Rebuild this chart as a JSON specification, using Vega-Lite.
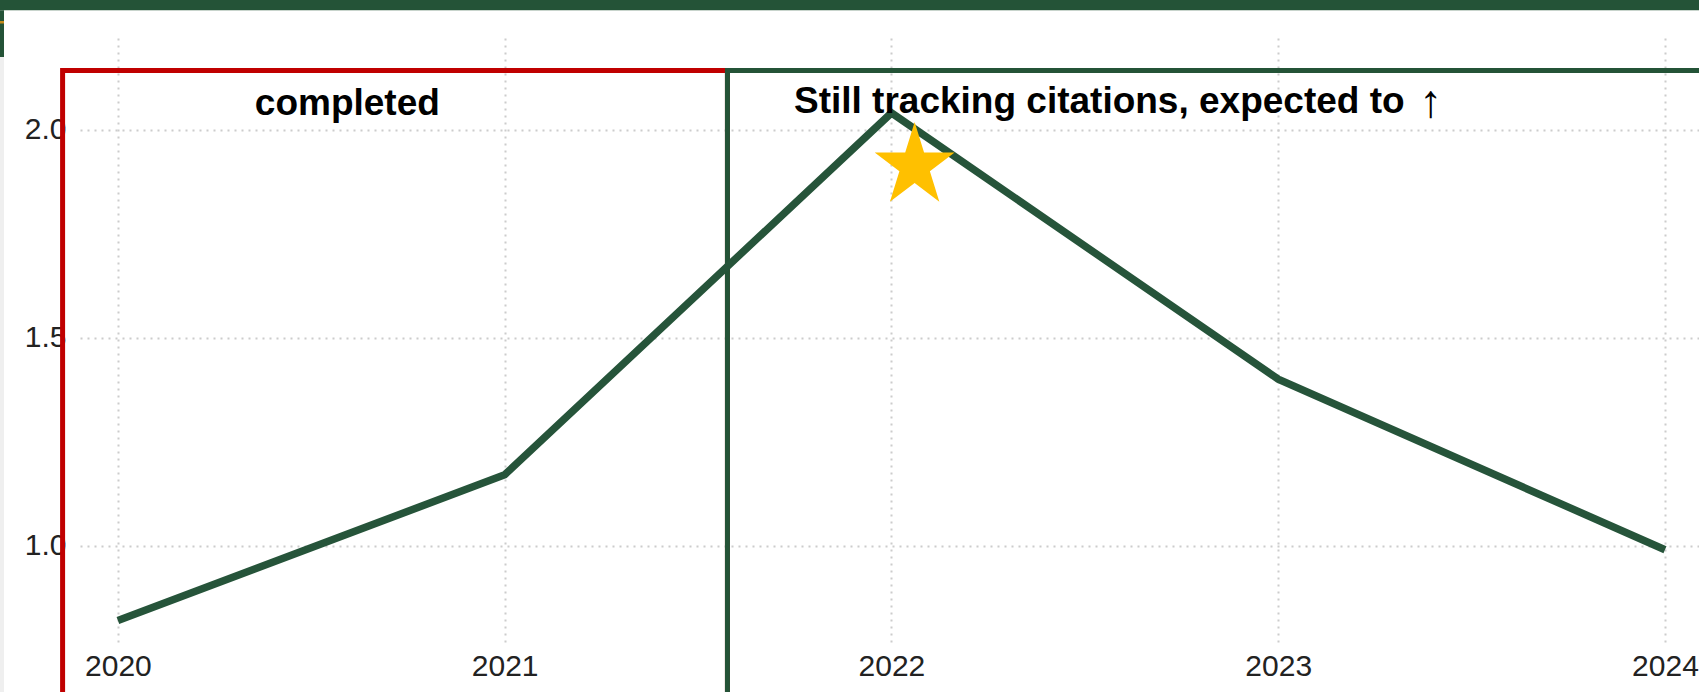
{
  "$schema": "https://vega.github.io/schema/vega-lite/v6.json",
  "autosize": "none",
  "width": 1619,
  "height": 607,
  "padding": {"left": 80, "top": 38, "right": 0, "bottom": 47},
  "background": "white",
  "datasets": {
    "series": [
      {"x": 2020, "y": 0.82},
      {"x": 2021, "y": 1.17},
      {"x": 2022, "y": 2.04},
      {"x": 2023, "y": 1.40},
      {"x": 2024, "y": 0.99}
    ],
    "highlight": [{"x": 2022.06, "y": 1.912}],
    "boxes": [
      {"box": "completed", "x": 2019.857, "x2": 2021.576, "y": 2.142, "y2": 0.5},
      {"box": "tracking", "x": 2021.576, "x2": 2024.4, "y": 2.142, "y2": 0.5}
    ],
    "notes": [
      {"label": "completed", "x": 2020.354, "y": 2.035},
      {"label": "Still tracking citations, expected to", "x": 2021.748, "y": 2.04}
    ],
    "arrow": [{"label": "↑", "x": 2023.364, "y": 2.03}],
    "frame": [
      {"part": "band", "x": 2019.5, "x2": 2024.5, "y": 2.287, "y2": 2.45},
      {"part": "band", "x": 2019.5, "x2": 2019.7055, "y": 2.287, "y2": 2.1743},
      {"part": "strip", "x": 2019.5, "x2": 2019.7055, "y": 2.1743, "y2": 0.5},
      {"part": "gold", "x": 2019.5, "x2": 2019.7055, "y": 2.2609, "y2": 2.2549}
    ]
  },
  "layer": [
    {
      "data": {"name": "frame"},
      "mark": {"type": "rect", "strokeWidth": 0},
      "encoding": {
        "x": {
          "field": "x",
          "type": "quantitative",
          "scale": {"domain": [2019.902, 2024.088], "nice": false, "zero": false},
          "axis": {
            "orient": "bottom",
            "values": [2020, 2021, 2022, 2023, 2024],
            "format": "d",
            "title": null,
            "labelPadding": 6
          }
        },
        "x2": {"field": "x2"},
        "y": {
          "field": "y",
          "type": "quantitative",
          "scale": {"domain": [0.761, 2.22], "nice": false, "zero": false},
          "axis": {
            "orient": "left",
            "values": [1.0, 1.5, 2.0],
            "format": ".1f",
            "title": null,
            "labelPadding": 14
          }
        },
        "y2": {"field": "y2"},
        "fill": {
          "field": "part",
          "type": "nominal",
          "scale": {"domain": ["band", "gold", "strip"], "range": ["#245337", "#C48A1C", "#EFEFEF"]},
          "legend": null
        }
      }
    },
    {
      "data": {"name": "boxes"},
      "mark": {"type": "rect", "filled": false, "strokeWidth": 5},
      "encoding": {
        "x": {"field": "x", "type": "quantitative"},
        "x2": {"field": "x2"},
        "y": {"field": "y", "type": "quantitative"},
        "y2": {"field": "y2"},
        "stroke": {
          "field": "box",
          "type": "nominal",
          "scale": {"domain": ["completed", "tracking"], "range": ["#C00000", "#245337"]},
          "legend": null
        }
      }
    },
    {
      "data": {"name": "series"},
      "mark": {"type": "line", "color": "#26543a", "strokeWidth": 7.5},
      "encoding": {
        "x": {"field": "x", "type": "quantitative"},
        "y": {"field": "y", "type": "quantitative"}
      }
    },
    {
      "data": {"name": "highlight"},
      "mark": {
        "type": "point",
        "shape": "M0,-1.05L0.2245,-0.324L0.951,-0.324L0.363,0.124L0.588,0.849L0,0.401L-0.588,0.849L-0.363,0.124L-0.951,-0.324L-0.2245,-0.324Z",
        "filled": true,
        "color": "#FFC000",
        "size": 7056,
        "opacity": 1,
        "strokeWidth": 0
      },
      "encoding": {
        "x": {"field": "x", "type": "quantitative"},
        "y": {"field": "y", "type": "quantitative"}
      }
    },
    {
      "data": {"name": "notes"},
      "mark": {
        "type": "text",
        "font": "Liberation Sans",
        "fontWeight": "bold",
        "fontSize": 37,
        "align": "left",
        "baseline": "alphabetic",
        "color": "black"
      },
      "encoding": {
        "x": {"field": "x", "type": "quantitative"},
        "y": {"field": "y", "type": "quantitative"},
        "text": {"field": "label", "type": "nominal"}
      }
    },
    {
      "data": {"name": "arrow"},
      "mark": {
        "type": "text",
        "font": "Liberation Sans",
        "fontWeight": "normal",
        "fontSize": 46,
        "align": "left",
        "baseline": "alphabetic",
        "color": "black"
      },
      "encoding": {
        "x": {"field": "x", "type": "quantitative"},
        "y": {"field": "y", "type": "quantitative"},
        "text": {"field": "label", "type": "nominal"}
      }
    }
  ],
  "config": {
    "view": {"stroke": null},
    "axis": {
      "grid": true,
      "gridColor": "#cccccc",
      "gridDash": [2, 5],
      "gridWidth": 2,
      "ticks": false,
      "domain": false,
      "labelFont": "Liberation Sans",
      "labelFontSize": 30,
      "labelColor": "#222222"
    }
  }
}
